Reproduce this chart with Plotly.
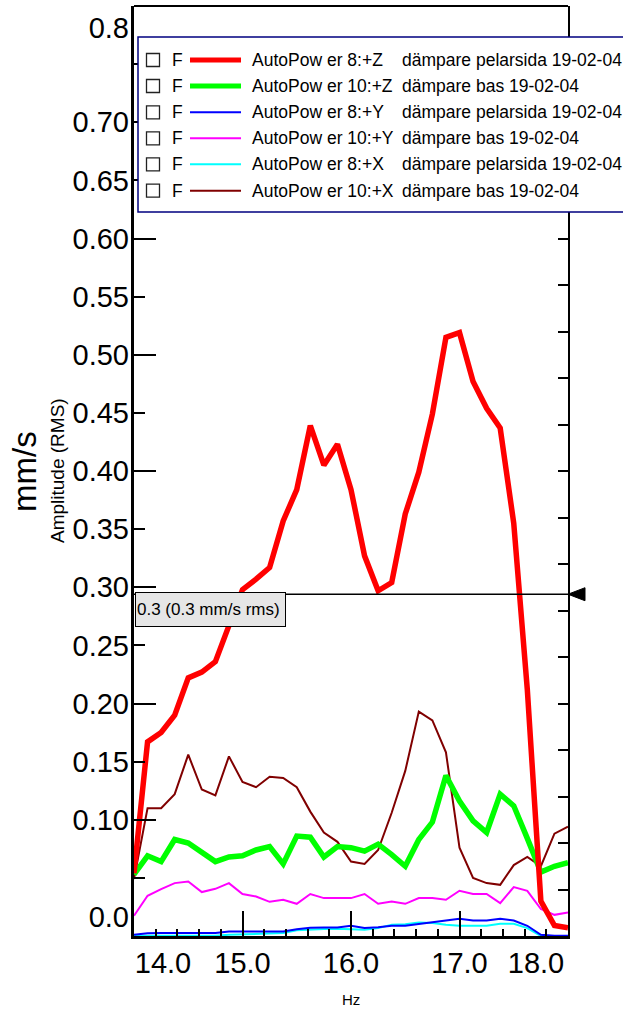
import plotly.graph_objects as go

# ---------------- data ----------------
freq_hz = [14.0, 14.125, 14.25, 14.375, 14.5, 14.625, 14.75, 14.875,
           15.0, 15.125, 15.25, 15.375, 15.5, 15.625, 15.75, 15.875,
           16.0, 16.125, 16.25, 16.375, 16.5, 16.625, 16.75, 16.875,
           17.0, 17.125, 17.25, 17.375, 17.5, 17.625, 17.75, 17.875, 18.0]

ap8_z = [0.054, 0.167, 0.175, 0.190, 0.222, 0.227, 0.236, 0.268, 0.298, 0.307, 0.317,
         0.357, 0.384, 0.439, 0.405, 0.423, 0.384, 0.327, 0.297, 0.304, 0.363, 0.399,
         0.449, 0.515, 0.519, 0.477, 0.454, 0.437, 0.355, 0.212, 0.030, 0.009, 0.007]

ap10_z = [0.053, 0.069, 0.064, 0.083, 0.080, 0.072, 0.064, 0.068, 0.069, 0.074, 0.077,
          0.062, 0.086, 0.085, 0.068, 0.077, 0.076, 0.073, 0.079, 0.070, 0.060, 0.083,
          0.098, 0.138, 0.116, 0.099, 0.089, 0.122, 0.112, 0.084, 0.055, 0.060, 0.063]

ap8_y = [0.001, 0.0023, 0.0025, 0.0025, 0.0025, 0.0025, 0.0025, 0.0039, 0.0039, 0.0039, 0.0039,
         0.0039, 0.0058, 0.0071, 0.0073, 0.0073, 0.0088, 0.0068, 0.0075, 0.0088, 0.0088, 0.0105,
         0.0116, 0.0133, 0.0148, 0.0133, 0.0133, 0.0148, 0.0133, 0.0088, 0.001, 0.0002, 0.0002]

ap10_y = [0.0174, 0.0346, 0.0404, 0.0455, 0.0469, 0.0378, 0.0406, 0.0455, 0.0361, 0.0340, 0.0294,
          0.0312, 0.0277, 0.0361, 0.0326, 0.0326, 0.0326, 0.0361, 0.0277, 0.0297, 0.0277, 0.0326,
          0.0326, 0.0312, 0.0389, 0.0361, 0.0361, 0.0283, 0.0421, 0.0389, 0.0232, 0.0182, 0.0202]

ap8_x = [0.0003, 0.0003, 0.0003, 0.0003, 0.0003, 0.0003, 0.0003, 0.0010, 0.0015, 0.0019, 0.0023,
         0.0025, 0.0050, 0.0058, 0.0060, 0.0062, 0.0060, 0.0053, 0.0068, 0.0096, 0.0102, 0.0116,
         0.0111, 0.0096, 0.0088, 0.0088, 0.0088, 0.0105, 0.0105, 0.0068, 0.0, 0.0, 0.0]

ap10_x = [0.049, 0.110, 0.110, 0.122, 0.156, 0.126, 0.121, 0.1545, 0.1325, 0.128, 0.137,
          0.136, 0.128, 0.107, 0.089, 0.081, 0.064, 0.062, 0.074, 0.106, 0.142, 0.193,
          0.1855, 0.158, 0.076, 0.050, 0.0455, 0.044, 0.061, 0.068, 0.060, 0.088, 0.094]

series_values = [ap8_z, ap10_z, ap8_y, ap10_y, ap8_x, ap10_x]
series_names = ["AutoPow er 8:+Z", "AutoPow er 10:+Z", "AutoPow er 8:+Y",
                "AutoPow er 10:+Y", "AutoPow er 8:+X", "AutoPow er 10:+X"]
series_desc = ["dämpare pelarsida 19-02-04", "dämpare bas 19-02-04",
               "dämpare pelarsida 19-02-04", "dämpare bas 19-02-04",
               "dämpare pelarsida 19-02-04", "dämpare bas 19-02-04"]
series_colors = ["#ff0000", "#00ff00", "#0000ff", "#ff00ff", "#00ffff", "#800000"]
series_widths = [5.5, 5.5, 2, 2, 2, 2]
draw_order = [5, 4, 3, 2, 1, 0]

y_label_vals = [0.0168, 0.10, 0.15, 0.20, 0.25, 0.30, 0.35, 0.40, 0.45, 0.50,
                0.55, 0.60, 0.65, 0.70, 0.7816]
y_label_text = ["0.0", "0.10", "0.15", "0.20", "0.25", "0.30", "0.35", "0.40", "0.45",
                "0.50", "0.55", "0.60", "0.65", "0.70", "0.8"]
x_label_vals = [14.267, 15.0, 16.0, 17.0, 17.705]
x_label_text = ["14.0", "15.0", "16.0", "17.0", "18.0"]

cursor_value = 0.294
cursor_text = "0.3 (0.3 mm/s rms)"

X_RANGE = [14.0, 18.0]
Y_RANGE = [0.0, 0.8]

# ---------------- layout geometry ----------------
W, H = 623, 1010
PL, PR, PT, PB = 134, 568, 6, 936
FONT = "Liberation Sans, Arial, sans-serif"


def fx(px):
    return (px - PL) / (PR - PL)


def fy(py):
    return (PB - py) / (PB - PT)


fig = go.Figure()

for i in draw_order:
    fig.add_trace(go.Scatter(
        x=freq_hz, y=series_values[i], mode="lines", name=series_names[i],
        line=dict(color=series_colors[i], width=series_widths[i]),
        showlegend=False, hoverinfo="x+y+name"))

# invisible helpers so the overlay axes are realised
fig.add_trace(go.Scatter(x=X_RANGE, y=Y_RANGE, xaxis="x2", yaxis="y3", mode="markers",
                         marker=dict(opacity=0), showlegend=False, hoverinfo="skip"))
fig.add_trace(go.Scatter(x=X_RANGE, y=[0, 20], xaxis="x", yaxis="y2", mode="markers",
                         marker=dict(opacity=0), showlegend=False, hoverinfo="skip"))

shapes = []
annotations = []

# cursor line
shapes.append(dict(type="line", xref="paper", yref="y", x0=0, x1=1,
                   y0=cursor_value, y1=cursor_value, line=dict(color="black", width=1.5)))
# cursor arrow at right edge
shapes.append(dict(type="path", xref="paper", yref="paper",
                   xsizemode="pixel", ysizemode="pixel",
                   xanchor=1.0, yanchor=cursor_value / Y_RANGE[1],
                   path="M 0 0 L 17 6.5 L 17 -6.5 Z",
                   fillcolor="black", line=dict(color="black", width=1)))
# top border
shapes.append(dict(type="line", xref="paper", yref="paper", x0=0, x1=1, y0=1, y1=1,
                   line=dict(color="black", width=2)))

# legend box
LEG_TOP, LEG_BOT, LEG_L, LEG_R = 37, 212, 138, 640
shapes.append(dict(type="rect", xref="paper", yref="paper", layer="above",
                   x0=fx(LEG_L), x1=fx(LEG_R), y0=fy(LEG_BOT), y1=fy(LEG_TOP),
                   fillcolor="white", line=dict(color="#000080", width=1.5)))
row_y = [60, 86, 112.3, 138.3, 164.3, 190.7]
for k in range(6):
    ry = row_y[k]
    shapes.append(dict(type="rect", xref="paper", yref="paper", layer="above",
                       x0=fx(146.5), x1=fx(159.5), y0=fy(ry + 6.5), y1=fy(ry - 6.5),
                       fillcolor="white", line=dict(color="#222222", width=1.3)))
    shapes.append(dict(type="line", xref="paper", yref="paper", layer="above",
                       x0=fx(190), x1=fx(241), y0=fy(ry), y1=fy(ry),
                       line=dict(color=series_colors[k],
                                 width=5 if series_widths[k] > 3 else 2)))
    annotations.append(dict(xref="paper", yref="paper", x=fx(170), y=fy(ry),
                            xanchor="left", yanchor="middle", text="F", showarrow=False,
                            font=dict(family=FONT, size=17.5, color="black")))
    annotations.append(dict(xref="paper", yref="paper", x=fx(249.5), y=fy(ry),
                            xanchor="left", yanchor="middle", text=series_names[k],
                            showarrow=False, font=dict(family=FONT, size=17.5, color="black")))
    annotations.append(dict(xref="paper", yref="paper", x=fx(399.5), y=fy(ry),
                            xanchor="left", yanchor="middle", text=series_desc[k],
                            showarrow=False, font=dict(family=FONT, size=17.5, color="black")))

# cursor label box
annotations.append(dict(xref="paper", yref="paper", x=fx(134.5), y=fy(591.5),
                        xanchor="left", yanchor="top", text=cursor_text, showarrow=False,
                        align="left", valign="middle", width=147, height=31,
                        bgcolor="#e6e6e6", bordercolor="black", borderwidth=1, borderpad=1,
                        font=dict(family=FONT, size=17, color="black")))

# axis titles
annotations.append(dict(xref="paper", yref="paper", x=fx(24), y=fy(472),
                        xanchor="center", yanchor="middle", text="mm/s", textangle=-90,
                        showarrow=False, font=dict(family=FONT, size=33, color="black")))
annotations.append(dict(xref="paper", yref="paper", x=fx(57), y=fy(471),
                        xanchor="center", yanchor="middle", text="Amplitude (RMS)",
                        textangle=-90, showarrow=False,
                        font=dict(family=FONT, size=19, color="black")))
annotations.append(dict(xref="paper", yref="paper", x=fx(351), y=fy(999),
                        xanchor="center", yanchor="middle", text="Hz", showarrow=False,
                        font=dict(family=FONT, size=15, color="black")))

fig.update_layout(
    width=W, height=H,
    margin=dict(l=PL, r=W - PR, t=PT, b=H - PB, pad=0),
    paper_bgcolor="white", plot_bgcolor="white",
    font=dict(family=FONT, color="black"),
    showlegend=False,
    shapes=shapes, annotations=annotations,
    xaxis=dict(range=X_RANGE, showgrid=False, zeroline=False,
               showline=True, linecolor="black", linewidth=3,
               ticks="inside", tick0=14, dtick=1, ticklen=25, tickwidth=2, tickcolor="black",
               minor=dict(ticks="inside", dtick=0.2, ticklen=7, tickwidth=2, tickcolor="black"),
               showticklabels=False),
    xaxis2=dict(range=X_RANGE, overlaying="x", side="bottom", anchor="y",
                showgrid=False, zeroline=False, showline=False, ticks="",
                tickmode="array", tickvals=x_label_vals, ticktext=x_label_text,
                tickfont=dict(family=FONT, size=29, color="black"),
                ticklabelstandoff=7),
    yaxis=dict(range=Y_RANGE, showgrid=False, zeroline=False,
               showline=True, linecolor="black", linewidth=3,
               ticks="inside", tick0=0, dtick=0.1, ticklen=22, tickwidth=2, tickcolor="black",
               minor=dict(ticks="inside", dtick=0.05, ticklen=11, tickwidth=2, tickcolor="black"),
               showticklabels=False),
    yaxis3=dict(range=Y_RANGE, overlaying="y", side="left", anchor="x",
                showgrid=False, zeroline=False, showline=False, ticks="",
                tickmode="array", tickvals=y_label_vals, ticktext=y_label_text,
                tickfont=dict(family=FONT, size=29, color="black"),
                ticklabelstandoff=4),
    yaxis2=dict(range=[0, 20], overlaying="y", side="right", anchor="x",
                showgrid=False, zeroline=False, showline=True, linecolor="black", linewidth=2,
                ticks="inside", tick0=0, dtick=1, ticklen=10, tickwidth=2, tickcolor="black",
                showticklabels=False),
)

fig.write_html("out.html", config={"displayModeBar": False},
               post_script="document.body.style.margin='0px';")
